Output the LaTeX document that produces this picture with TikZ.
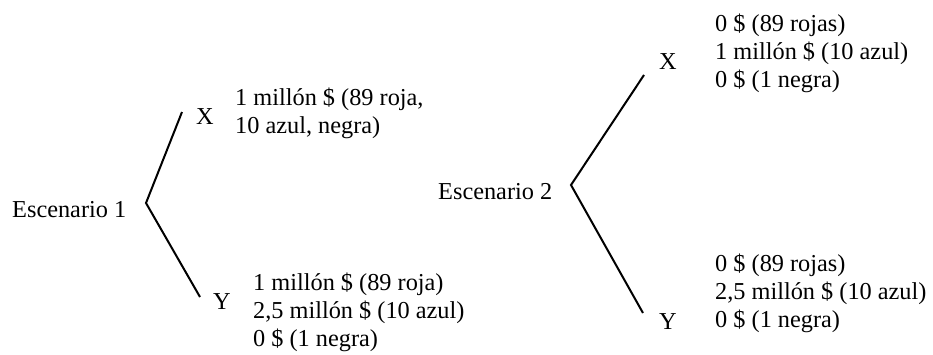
\documentclass[tikz,border=0pt]{standalone}
\usepackage{fontspec}
\setmainfont{Liberation Serif}
\begin{document}
\begin{tikzpicture}[x=1pt,y=-1pt,
  txt/.style={inner sep=0pt, anchor=west, align=left, font=\fontsize{24.3}{28}\selectfont},
  lbl/.style={inner sep=0pt, font=\fontsize{24.3}{28}\selectfont},
  branch/.style={line width=2pt}]
\useasboundingbox (0,0) rectangle (933,354);
% Scenario 1
\node[txt] (e1) at (12,210) {Escenario 1};
\coordinate (v1) at (146,203);
\coordinate (x1end) at (182,112);
\coordinate (y1end) at (200,297);
\node[lbl] (x1) at (205,117) {X};
\node[lbl] (y1) at (222,302) {Y};
\node[txt] (t1) at (235,113) {1 millón \$ (89 roja,\\10 azul, negra)};
\node[txt] (t2) at (253,312) {1 millón \$ (89 roja)\\2,5 millón \$ (10 azul)\\0 \$ (1 negra)};
\draw[branch] (x1end) -- (v1) -- (y1end);
% Scenario 2
\node[txt] (e2) at (438,192) {Escenario 2};
\coordinate (v2) at (571,185);
\coordinate (x2end) at (644,75);
\coordinate (y2end) at (643,313);
\node[lbl] (x2) at (668,62) {X};
\node[lbl] (y2) at (668,322) {Y};
\node[txt] (t3) at (715,53) {0 \$ (89 rojas)\\1 millón \$ (10 azul)\\0 \$ (1 negra)};
\node[txt] (t4) at (715,293) {0 \$ (89 rojas)\\2,5 millón \$ (10 azul)\\0 \$ (1 negra)};
\draw[branch] (x2end) -- (v2) -- (y2end);
\end{tikzpicture}
\end{document}
